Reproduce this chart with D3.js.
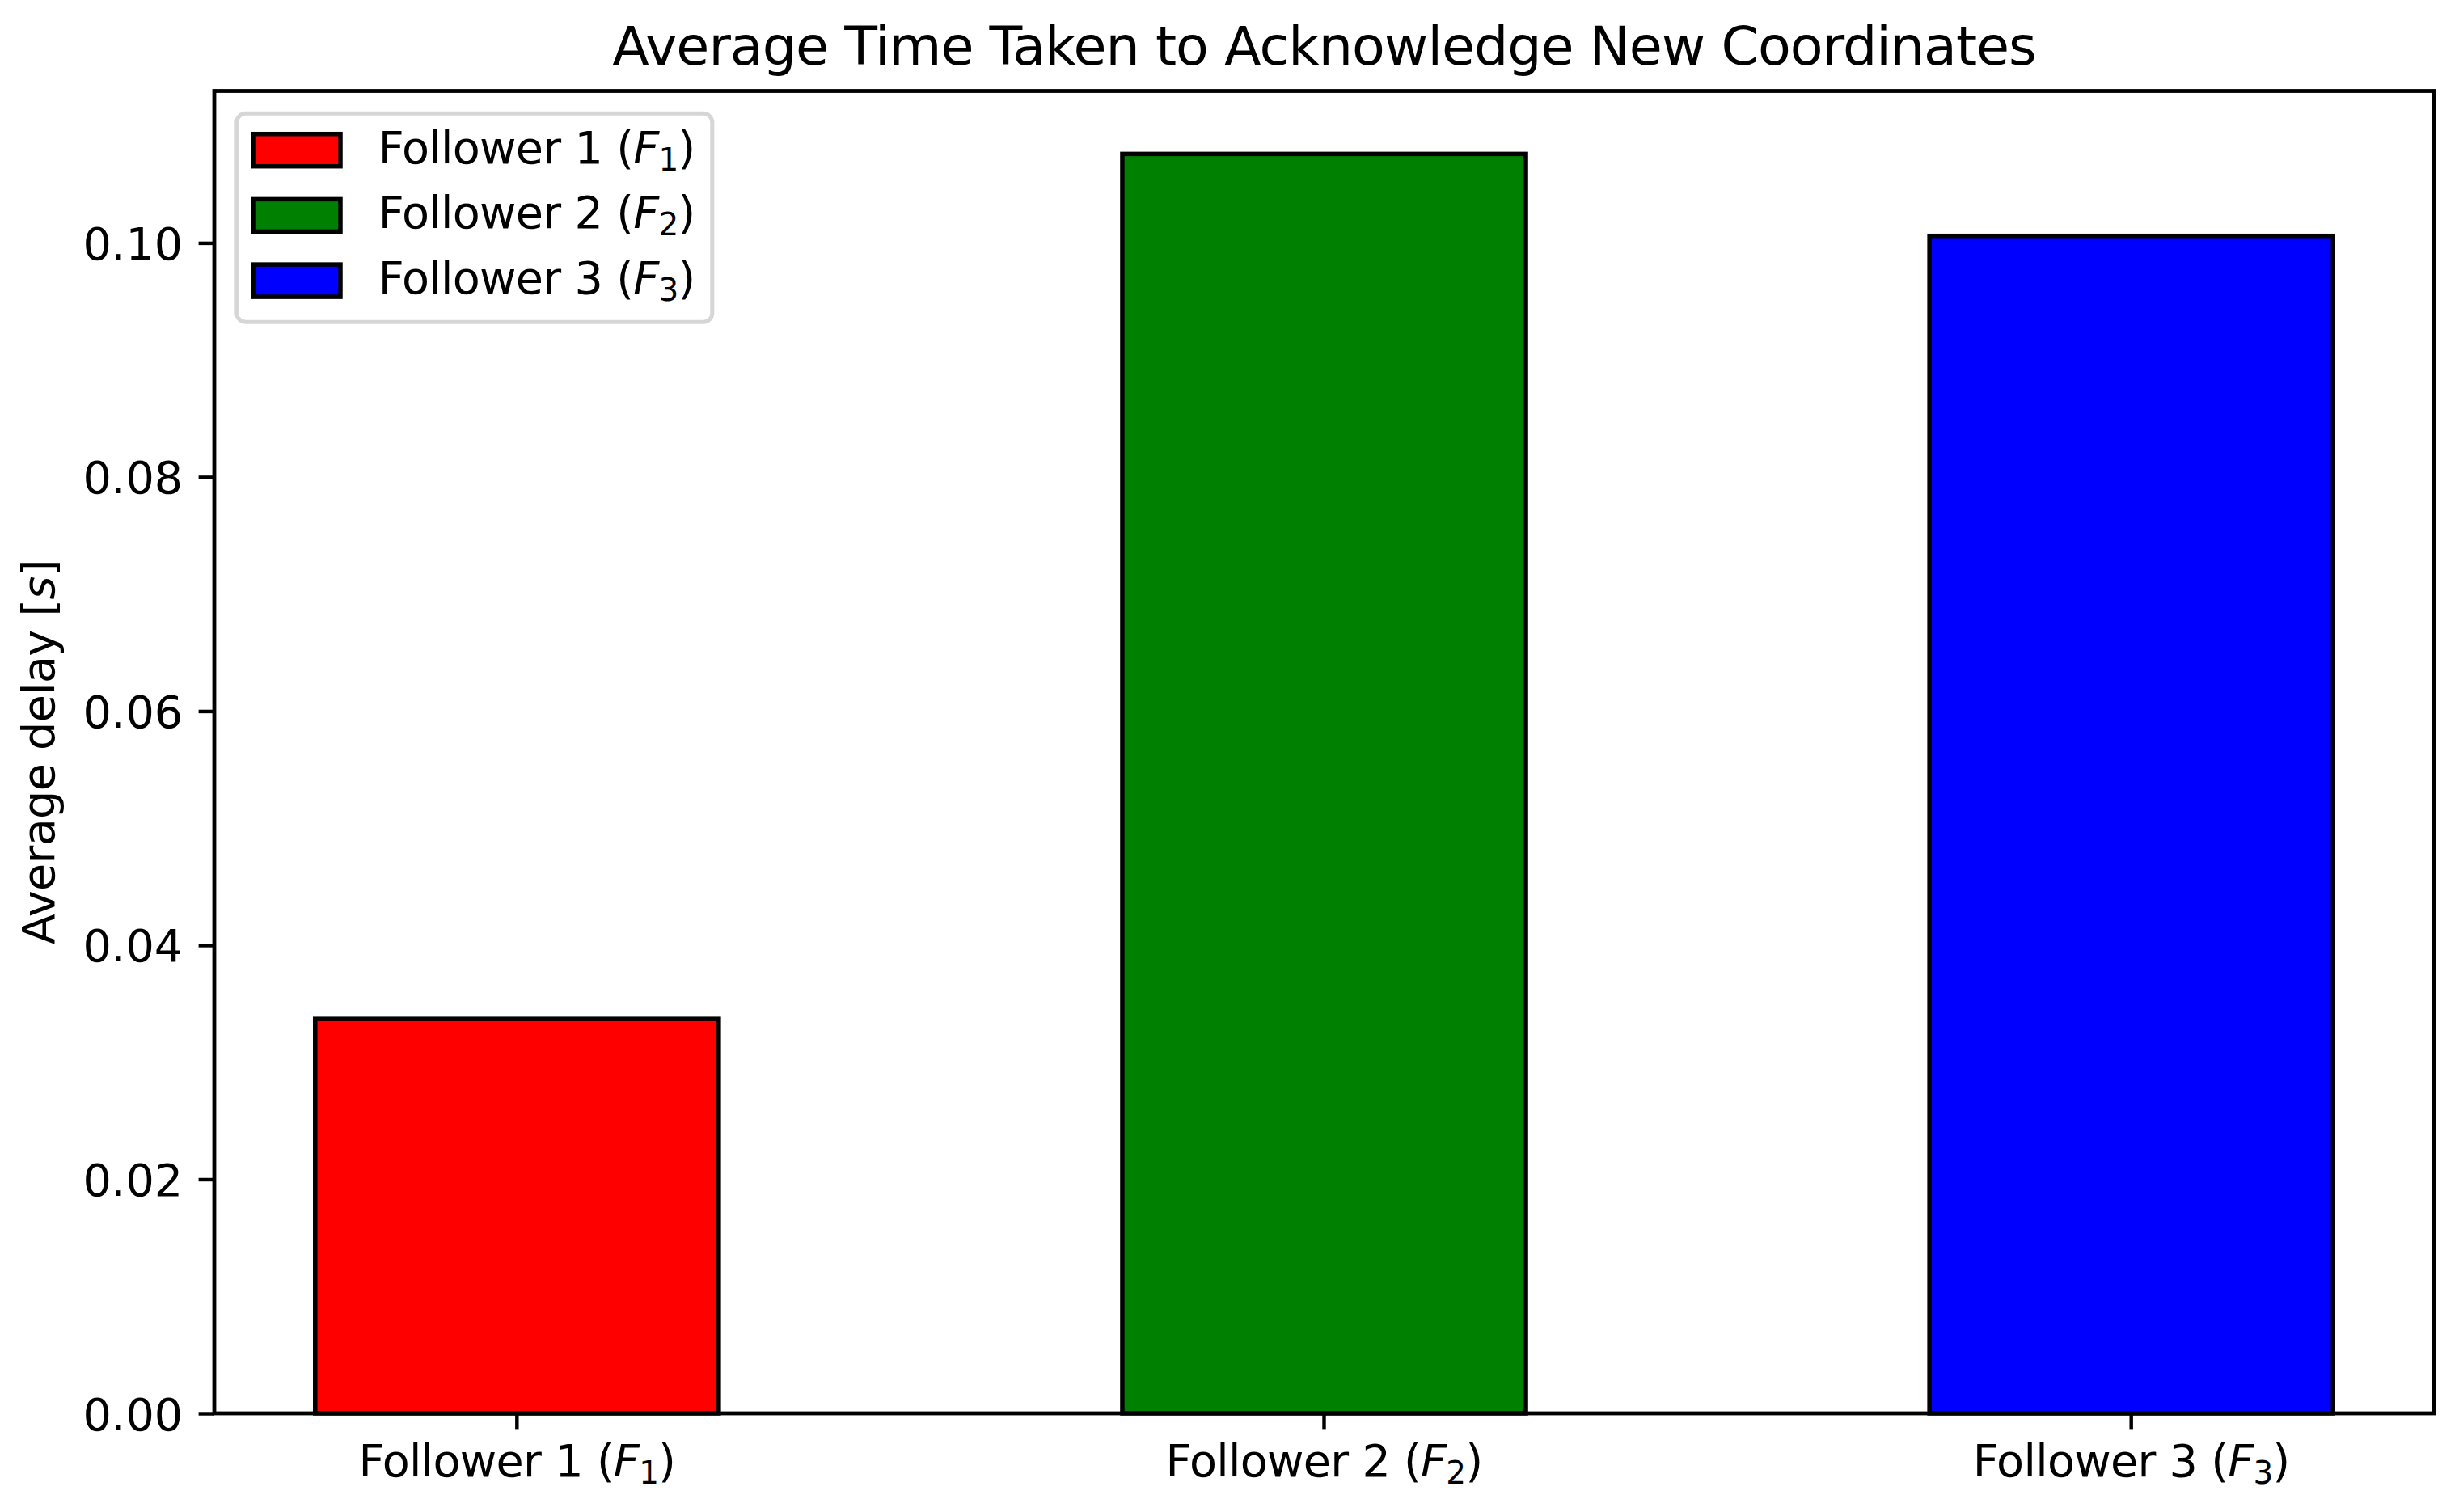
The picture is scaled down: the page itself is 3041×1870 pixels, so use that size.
<!DOCTYPE html>
<html>
<head>
<meta charset="utf-8">
<script src="https://cdn.jsdelivr.net/npm/d3@7"></script>
<style>
  html, body { margin: 0; padding: 0; background: #ffffff; }
  svg { display: block; font-family: "DejaVu Sans", sans-serif; }
</style>
</head>
<body>
<svg id="chart" width="3041" height="1870"></svg>
<script>
// ---- data ----
const categories = ["Follower 1", "Follower 2", "Follower 3"];
const subscripts = ["1", "2", "3"];
const values = [0.0337, 0.1076, 0.1006];
const colors = ["#ff0000", "#008000", "#0000ff"];
const yTicks = [0.00, 0.02, 0.04, 0.06, 0.08, 0.10];
const titleText = "Average Time Taken to Acknowledge New Coordinates";
const yLabelText = "Average delay [";

// ---- layout ----
const W = 3041, H = 1870;
const plot = { left: 265, right: 3010, top: 112.5, bottom: 1748 };
const fs = 55.6;          // 10pt @ 400dpi
const titleFs = 66.7;     // 12pt @ 400dpi
const tickLen = 19.4, tickPad = 19.4, tickW = 4.44;
const spineW = 4.8, barEdge = 5.5;
const ls = -0.7, titleLs = -1.0;

const svg = d3.select("#chart");
svg.append("rect").attr("width", W).attr("height", H).attr("fill", "#ffffff");

const x = d3.scaleBand().domain(categories)
  .range([plot.left, plot.right]).paddingInner(0.5).paddingOuter(0.125);
const y = d3.scaleLinear().domain([0, d3.max(values) * 1.05])
  .range([plot.bottom, plot.top]);

// bars
svg.append("g").selectAll("rect").data(categories).join("rect")
  .attr("x", d => x(d))
  .attr("width", x.bandwidth())
  .attr("y", (d, i) => y(values[i]))
  .attr("height", (d, i) => y(0) - y(values[i]))
  .attr("fill", (d, i) => colors[i])
  .attr("stroke", "#000")
  .attr("stroke-width", barEdge);

// y axis
const yAxis = svg.append("g")
  .attr("transform", `translate(${plot.left},0)`)
  .call(d3.axisLeft(y).tickValues(yTicks).tickFormat(d3.format(".2f"))
    .tickSize(tickLen).tickPadding(tickPad).tickSizeOuter(0));
yAxis.select(".domain").remove();
yAxis.selectAll(".tick line").attr("stroke", "#000").attr("stroke-width", tickW);
yAxis.selectAll(".tick text").attr("font-size", fs).attr("fill", "#000")
  .attr("font-family", "DejaVu Sans").attr("dy", "0.36em");

// x axis
const xAxis = svg.append("g")
  .attr("transform", `translate(0,${plot.bottom})`)
  .call(d3.axisBottom(x).tickSize(tickLen).tickPadding(tickPad).tickSizeOuter(0));
xAxis.select(".domain").remove();
xAxis.selectAll(".tick line").attr("stroke", "#000").attr("stroke-width", tickW);
xAxis.selectAll(".tick text").each(function(d) {
  const i = categories.indexOf(d);
  const t = d3.select(this).text(null)
    .attr("font-size", fs).attr("fill", "#000").attr("font-family", "DejaVu Sans")
    .attr("letter-spacing", ls)
    .attr("dy", "0.71em");
  t.append("tspan").text(d + " (");
  t.append("tspan").attr("font-style", "italic").text("F");
  t.append("tspan").attr("font-size", fs * 0.7).attr("dy", 9).text(subscripts[i]);
  t.append("tspan").attr("dy", -9).text(")");
});

// frame (spines)
svg.append("rect")
  .attr("x", plot.left).attr("y", plot.top)
  .attr("width", plot.right - plot.left).attr("height", plot.bottom - plot.top)
  .attr("fill", "none").attr("stroke", "#000").attr("stroke-width", spineW);

// title
svg.append("text")
  .attr("x", (plot.left + plot.right) / 2).attr("y", 79.5)
  .attr("text-anchor", "middle").attr("font-size", titleFs).attr("fill", "#000")
  .attr("letter-spacing", titleLs)
  .text(titleText);

// y label
const yl = svg.append("text")
  .attr("transform", `translate(67,${(plot.top + plot.bottom) / 2}) rotate(-90)`)
  .attr("text-anchor", "middle").attr("font-size", fs).attr("fill", "#000")
  .attr("letter-spacing", ls);
yl.append("tspan").text(yLabelText);
yl.append("tspan").attr("font-style", "italic").text("s");
yl.append("tspan").text("]");

// legend
const lg = svg.append("g");
lg.append("rect")
  .attr("x", 292.8).attr("y", 140.3).attr("width", 588).attr("height", 258)
  .attr("rx", 11).attr("ry", 11)
  .attr("fill", "#ffffff").attr("fill-opacity", 0.8)
  .attr("stroke", "#cccccc").attr("stroke-opacity", 0.8).attr("stroke-width", 5);
const rowY = d3.scaleLinear().domain([0, 1]).range([165.7, 246.4]);
const rows = lg.selectAll("g.row").data(categories).join("g").attr("class", "row")
  .attr("transform", (d, i) => `translate(0,${rowY(i)})`);
rows.append("rect")
  .attr("x", 313).attr("y", 0).attr("width", 108).attr("height", 40)
  .attr("fill", (d, i) => colors[i]).attr("stroke", "#000").attr("stroke-width", barEdge);
rows.each(function(d, i) {
  const t = d3.select(this).append("text")
    .attr("x", 467.7).attr("y", 36).attr("font-size", fs).attr("fill", "#000")
    .attr("letter-spacing", ls);
  t.append("tspan").text(d + " (");
  t.append("tspan").attr("font-style", "italic").text("F");
  t.append("tspan").attr("font-size", fs * 0.7).attr("dy", 9).text(subscripts[i]);
  t.append("tspan").attr("dy", -9).text(")");
});
</script>
</body>
</html>
